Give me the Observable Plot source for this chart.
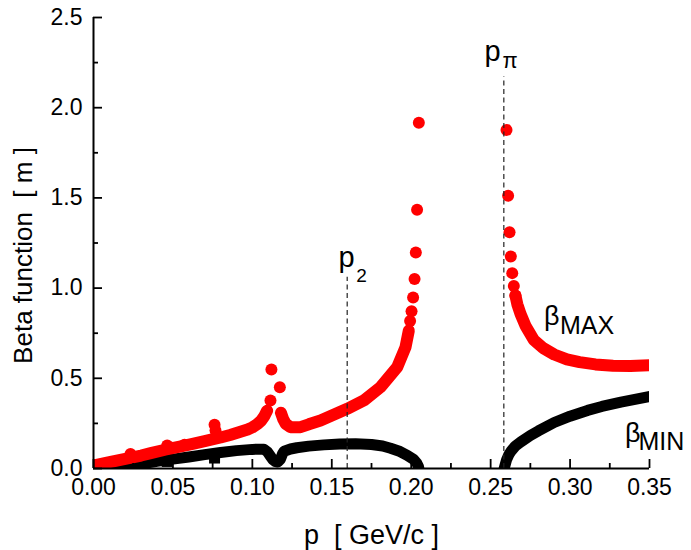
<!DOCTYPE html>
<html>
<head>
<meta charset="utf-8">
<script src="https://cdn.jsdelivr.net/npm/d3@7"></script>
<script src="https://cdn.jsdelivr.net/npm/@observablehq/plot@0.6"></script>
<style>
  html, body { margin: 0; padding: 0; background: #fff; }
  #chart svg { display: block; }
</style>
</head>
<body>
<div id="chart"></div>
<script>
// ---- data (p in GeV/c, beta in m) ----
// beta_MAX, dense band below the first resonance peak
const betaMaxLow = [[0,0.017],[0.010,0.035],[0.020,0.053],[0.030,0.072],[0.036,0.085],[0.045,0.104],[0.055,0.122],[0.061,0.134],[0.070,0.152],[0.080,0.172],[0.086,0.186],[0.092,0.202],[0.097,0.216],[0.100,0.228],[0.103,0.245],[0.1055,0.265],[0.1075,0.29],[0.1093,0.321]];
// beta_MAX, dense band between the resonance and p ~ 0.2
const betaMaxMid = [[0.118,0.309],[0.1195,0.272],[0.121,0.248],[0.124,0.229],[0.1303,0.229],[0.1355,0.245],[0.1429,0.266],[0.1597,0.331],[0.1702,0.377],[0.1807,0.451],[0.1912,0.562],[0.1964,0.672],[0.1985,0.765]];
// beta_MAX isolated points (resonance peak, bumps, asymptote near 0.205)
const betaMaxSparse = [[0.0233,0.081],[0.0464,0.127],[0.0573,0.132],[0.0762,0.242],[0.0768,0.21],[0.1114,0.377],[0.112,0.549],[0.1173,0.451],[0.1993,0.817],[0.2002,0.872],[0.2012,0.948],[0.2021,1.051],[0.2029,1.197],[0.2037,1.434],[0.2048,1.916]];
// beta_MAX isolated points after p_pi
const betaMaxHighSparse = [[0.2600,1.877],[0.2610,1.512],[0.2619,1.310],[0.2627,1.175],[0.2636,1.083],[0.2646,1.011],[0.2656,0.959]];
// beta_MAX dense band after p_pi
const betaMaxHigh = [[0.2656,0.959],[0.2668,0.91],[0.2688,0.857],[0.272,0.79],[0.2772,0.712],[0.283,0.668],[0.290,0.632],[0.298,0.605],[0.306,0.590],[0.316,0.577],[0.327,0.569],[0.338,0.568],[0.350,0.572]];
// beta_MIN, first branch
const betaMinLow = [[0.012,-0.004],[0.020,0.010],[0.030,0.025],[0.040,0.040],[0.050,0.052],[0.060,0.064],[0.070,0.077],[0.080,0.089],[0.090,0.099],[0.100,0.106],[0.1072,0.107],[0.1095,0.092],[0.1114,0.068],[0.113,0.048],[0.1146,0.038],[0.116,0.036],[0.1177,0.052],[0.119,0.082],[0.120,0.096],[0.124,0.108],[0.128,0.115],[0.1355,0.124],[0.145,0.131],[0.155,0.136],[0.165,0.137],[0.175,0.133],[0.182,0.125],[0.187,0.112],[0.193,0.094],[0.1975,0.073],[0.2015,0.050],[0.2035,0.030],[0.2046,0.010],[0.2050,-0.01]];
// beta_MIN small dips
const betaMinSparse = [[0.0464,0.039],[0.0762,0.058]];
// beta_MIN, branch after p_pi
const betaMinHigh = [[0.2592,0.022],[0.2600,0.048],[0.2615,0.078],[0.2630,0.098],[0.2655,0.124],[0.2688,0.146],[0.275,0.183],[0.280,0.208],[0.290,0.255],[0.300,0.29],[0.311,0.322],[0.320,0.344],[0.332,0.368],[0.350,0.399]];
// reference momenta (dashed markers): position and top of the dashed line
const markerP = [0.1597, 0.2583];
const markerTop = [1.06, 2.17];
const markerBase = ["p", "p"];
const markerSub = ["2", "\u03c0"];
// curve labels
const curveLabelBase = ["\u03b2", "\u03b2"];
const curveLabelSub = ["MAX", "MIN"];
const curveLabelP = [0.2836, 0.3345];
const curveLabelBeta = [0.798, 0.147];
// axes
const xTicks = [0, 0.05, 0.10, 0.15, 0.20, 0.25, 0.30, 0.35];
const xMinor = [0.025, 0.075, 0.125, 0.175, 0.225, 0.275, 0.325];
const yTicks = [0, 0.5, 1.0, 1.5, 2.0, 2.5];
const yMinor = [0.25, 0.75, 1.25, 1.75, 2.25];
const xTitle = "p\u00a0 [ GeV/c ]";
const yTitle = "Beta function\u00a0 [ m ]";

const X = d => d[0], Y = d => d[1];
const RED = "#ff0000", BLACK = "#000000";
const markers = markerP.map((p, i) => ({p, top: markerTop[i], base: markerBase[i], sub: markerSub[i]}));
const curveLabels = curveLabelBase.map((b, i) => ({b, sub: curveLabelSub[i], p: curveLabelP[i], v: curveLabelBeta[i]}));

const txt = {textAnchor: "start", lineAnchor: "bottom", fill: BLACK};

const chart = Plot.plot({
  width: 691,
  height: 550,
  marginLeft: 93,
  marginRight: 42,
  marginTop: 17,
  marginBottom: 82,
  x: {domain: [0, 0.35]},
  y: {domain: [0, 2.5]},
  style: {fontFamily: "'Liberation Sans', Arial, sans-serif", background: "#fff", color: "#000"},
  marks: [
    // beta_MIN (black squares)
    Plot.line(betaMinLow, {x: X, y: Y, stroke: BLACK, strokeWidth: 11, strokeLinecap: "square", strokeLinejoin: "round", clip: "frame"}),
    Plot.line(betaMinHigh, {x: X, y: Y, stroke: BLACK, strokeWidth: 11, strokeLinecap: "square", strokeLinejoin: "round", clip: "frame"}),
    Plot.dot(betaMinSparse, {x: X, y: Y, symbol: "square", r: 6.2, fill: BLACK, stroke: null, clip: "frame"}),
    // beta_MAX (red circles)
    Plot.line(betaMaxLow, {x: X, y: Y, stroke: RED, strokeWidth: 12, strokeLinecap: "round", strokeLinejoin: "round", clip: "frame"}),
    Plot.line(betaMaxMid, {x: X, y: Y, stroke: RED, strokeWidth: 12, strokeLinecap: "round", strokeLinejoin: "round", clip: "frame"}),
    Plot.line(betaMaxHigh, {x: X, y: Y, stroke: RED, strokeWidth: 12, strokeLinecap: "round", strokeLinejoin: "round", clip: "frame"}),
    Plot.dot(betaMaxSparse, {x: X, y: Y, r: 6, fill: RED, stroke: null, clip: "frame"}),
    Plot.dot(betaMaxHighSparse, {x: X, y: Y, r: 6, fill: RED, stroke: null, clip: "frame"}),
    // dashed reference lines
    Plot.ruleX(markers, {x: "p", y1: 0, y2: "top", stroke: "#222", strokeWidth: 1.2, strokeDasharray: "5,3.5"}),
    // p_2 label
    Plot.text([markers[0]], {...txt, x: "p", y: "top", text: "base", fontSize: 29, dx: -8.7, dy: -10}),
    Plot.text([markers[0]], {...txt, x: "p", y: "top", text: "sub", fontSize: 19, dx: 9, dy: 5}),
    // p_pi label
    Plot.text([markers[1]], {...txt, x: "p", y: "top", text: "base", fontSize: 29, dx: -19.3, dy: -15.7}),
    Plot.text([markers[1]], {...txt, x: "p", y: "top", text: "sub", fontSize: 22, dx: -1.3, dy: -9}),
    // curve labels
    Plot.text(curveLabels, {...txt, x: "p", y: "v", text: "b", fontSize: 27}),
    Plot.text([curveLabels[0]], {...txt, x: "p", y: "v", text: "sub", fontSize: 25, dx: 16, dy: 9.3}),
    Plot.text([curveLabels[1]], {...txt, x: "p", y: "v", text: "sub", fontSize: 25, dx: 13.5, dy: 7.8}),
    // axes
    Plot.ruleX([0], {stroke: BLACK, strokeWidth: 2}),
    Plot.ruleY([0], {stroke: BLACK, strokeWidth: 2}),
    Plot.axisX(xTicks, {tickSize: -9, tickPadding: 19, strokeWidth: 1.8, fontSize: 23, tickFormat: d => d.toFixed(2), label: null}),
    Plot.axisX(xMinor, {tickSize: -5, tickPadding: 0, strokeWidth: 1.8, tickFormat: () => "", label: null}),
    Plot.axisY(yTicks, {tickSize: -9, tickPadding: 20, strokeWidth: 1.8, fontSize: 23, tickFormat: d => d.toFixed(1), label: null}),
    Plot.axisY(yMinor, {tickSize: -5, tickPadding: 0, strokeWidth: 1.8, tickFormat: () => "", label: null}),
    // axis titles
    Plot.text([xTitle], {frameAnchor: "bottom", text: d => d, fontSize: 27, textAnchor: "middle", lineAnchor: "bottom", dy: 75}),
    Plot.text([yTitle], {frameAnchor: "left", text: d => d, fontSize: 26, rotate: -90, textAnchor: "middle", lineAnchor: "bottom", dx: -62, dy: 12.5})
  ]
});
document.getElementById("chart").appendChild(chart);
</script>
</body>
</html>
